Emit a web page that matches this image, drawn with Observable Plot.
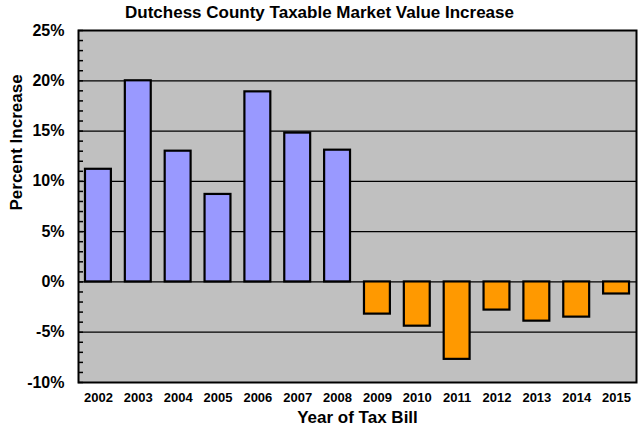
<!DOCTYPE html>
<html>
<head>
<meta charset="utf-8">
<script src="https://cdn.jsdelivr.net/npm/d3@7"></script>
<script src="https://cdn.jsdelivr.net/npm/@observablehq/plot@0.6"></script>
<style>
  html, body { margin: 0; padding: 0; background: #fff; }
  svg { display: block; }
</style>
</head>
<body>
<div id="chart"></div>
<script>
const years = ["2002","2003","2004","2005","2006","2007","2008","2009","2010","2011","2012","2013","2014","2015"];
const values = [11.2, 20.0, 13.0, 8.7, 18.9, 14.8, 13.1, -3.2, -4.4, -7.7, -2.8, -3.9, -3.5, -1.2];
const majorTicks = [-10, -5, 0, 5, 10, 15, 20, 25];
const minorTicks = d3.range(-10, 26, 1);
const gridLines = [-5, 0, 5, 10, 15, 20];
const title = "Dutchess County Taxable Market Value Increase";

const data = years.map((y, i) => ({year: y, value: values[i]}));
const font = "'Liberation Sans', Arial, Helvetica, sans-serif";

const chart = Plot.plot({
  width: 640,
  height: 431,
  marginLeft: 78,
  marginRight: 4,
  marginTop: 30,
  marginBottom: 49,
  style: {fontFamily: font, background: "white", color: "black"},
  x: {domain: years, paddingInner: 0.35, paddingOuter: 0.175, round: false, label: null},
  y: {domain: [-10, 25], label: null},
  marks: [
    Plot.frame({fill: "#c0c0c0"}),
    Plot.ruleY(gridLines, {stroke: "black", strokeWidth: 1.2}),
    Plot.barY(data, {
      x: "year", y: "value",
      fill: d => d.value >= 0 ? "#9999ff" : "#ff9900",
      stroke: "black", strokeWidth: 2.2
    }),
    Plot.axisY({ticks: minorTicks, tickSize: -5, text: null, strokeWidth: 1.5, label: null}),
    Plot.axisY({ticks: majorTicks, tickSize: 0, tickPadding: 14, tickFormat: d => d + "%",
      fontSize: 16, fontWeight: "bold", label: null}),
    Plot.axisX({tickSize: 0, tickPadding: 10, fontSize: 13, fontWeight: "bold", label: null}),
    Plot.frame({stroke: "black", strokeWidth: 2}),
    Plot.text([title], {frameAnchor: "top", lineAnchor: "middle", dy: -18, dx: -38, fontSize: 17, fontWeight: "bold", fill: "black"}),
    Plot.text(["Year of Tax Bill"], {frameAnchor: "bottom", lineAnchor: "middle", dy: 35, fontSize: 17, fontWeight: "bold", fill: "black"}),
    Plot.text(["Percent Increase"], {frameAnchor: "left", lineAnchor: "middle", dx: -62, dy: 4, rotate: -90, fontSize: 17, fontWeight: "bold", fill: "black"})
  ]
});
document.getElementById("chart").appendChild(chart);
</script>
</body>
</html>
